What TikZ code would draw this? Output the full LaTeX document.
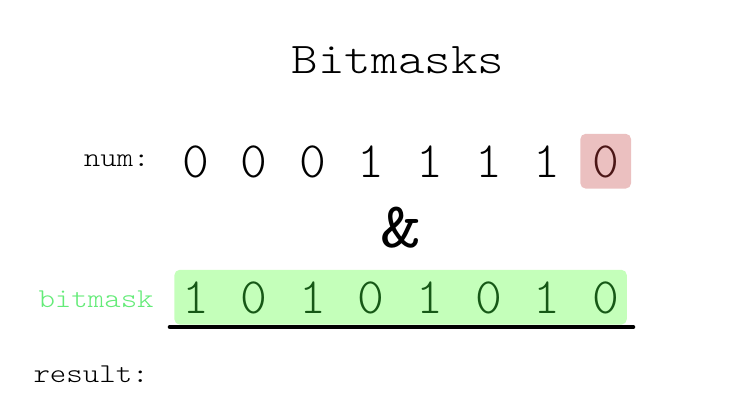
\documentclass[tikz,border=0pt]{standalone}
\usepackage{fontspec}
\setmonofont{lmmono10-regular.otf}[FakeStretch=1.2]
\newfontfamily\bitfont{lmmonolt10-regular.otf}
\newfontfamily\lblfont{lmmonolt10-regular.otf}[FakeStretch=1.15]
\usepackage{tikz}
\usetikzlibrary{positioning, fit, backgrounds}
\definecolor{boxred}{RGB}{235,192,192}
\definecolor{bitred}{RGB}{75,22,22}
\definecolor{boxgreen}{RGB}{196,255,186}
\definecolor{bitgreen}{RGB}{22,88,22}
\definecolor{lblgreen}{RGB}{100,235,120}

\begin{document}
\begin{tikzpicture}[
        x=0.02cm, y=-0.02cm,
        lbl/.style={font=\fontsize{15.5}{17}\lblfont, anchor=base east, inner sep=0pt, text=#1},
        lbl/.default=black,
        bit/.style={font=\fontsize{29}{30}\bitfont, inner sep=0pt, text height=18pt, text depth=0pt, minimum width=0.6cm, anchor=base, text=#1},
        bit/.default=black,
        hl/.style={rounded corners=3pt, fill=#1, inner ysep=0.224cm},
    ]
    \useasboundingbox (0,0) rectangle (751,414);

    % Title
    \node[font=\fontsize{25}{26}\lblfont, anchor=base, inner sep=0pt] (title) at (398,73) {Bitmasks};

    % num row
    \node[lbl] (numlbl) at (150,166) {num:};
    \node[bit] (n1) at (195.5,177) {0};
    \node[bit] (n2) at (254.1,177) {0};
    \node[bit] (n3) at (312.7,177) {0};
    \node[bit] (n4) at (371.3,177) {1};
    \node[bit] (n5) at (429.9,177) {1};
    \node[bit] (n6) at (488.5,177) {1};
    \node[bit] (n7) at (547.1,177) {1};
    \node[bit=bitred] (n8) at (605.7,177) {0};

    % Operator
    \node[font=\fontsize{37}{38}\ttfamily, anchor=base, inner sep=0pt] (andop) at (401,247) {\&};

    % bitmask row
    \node[lbl=lblgreen] (masklbl) at (154,307) {bitmask};
    \node[bit=bitgreen] (b1) at (195.5,313) {1};
    \node[bit=bitgreen] (b2) at (254.1,313) {0};
    \node[bit=bitgreen] (b3) at (312.7,313) {1};
    \node[bit=bitgreen] (b4) at (371.3,313) {0};
    \node[bit=bitgreen] (b5) at (429.9,313) {1};
    \node[bit=bitgreen] (b6) at (488.5,313) {0};
    \node[bit=bitgreen] (b7) at (547.1,313) {1};
    \node[bit=bitgreen] (b8) at (605.7,313) {0};

    % Sum line
    \draw[line width=2.6pt, line cap=round] (170,327) -- (633,327);

    % result row
    \node[lbl] (reslbl) at (149,382) {result:};

    % Highlights
    \begin{scope}[on background layer]
    \node[hl=boxred, inner xsep=0.2cm, fit=(n8)] (numhl) {};
    \node[hl=boxgreen, inner xsep=0.115cm, fit=(b1)(b8)] (maskhl) {};
    \end{scope}
\end{tikzpicture}
\end{document}
